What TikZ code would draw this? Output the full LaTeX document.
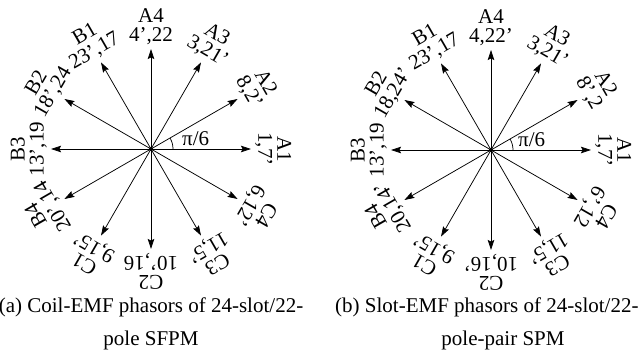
\documentclass[tikz,border=0pt]{standalone}
\usepackage{fontspec}
\setmainfont{Liberation Serif}
\usetikzlibrary{arrows.meta,calc}
\newcommand\plab[5]{\node[lab, rotate=#2-90] (#5) at ($(#1)+(#2:103pt)$) {#3\\#4};}
\begin{document}
\begin{tikzpicture}[x=1pt,y=1pt,
  ph/.style={-{Stealth[length=10pt,width=6.5pt,inset=1.5pt]}, line width=0.75pt},
  lab/.style={font=\fontsize{21}{19}\selectfont, align=center, inner sep=1pt, anchor=south},
  captxt/.style={font=\fontsize{21}{26}\selectfont, inner sep=0pt},
  angtxt/.style={font=\fontsize{21}{21}\selectfont, inner sep=0pt, anchor=base west},
  cdot/.style={circle, fill=black, inner sep=0pt, minimum size=4pt}]
\useasboundingbox (0,0) rectangle (639,355);
\coordinate (ca) at (151,206);
\coordinate (cb) at (491,205);
\foreach \a [count=\i] in {0,30,...,330} {
  \coordinate (ta\i) at ($(ca)+(\a:100pt)$);
  \coordinate (tb\i) at ($(cb)+(\a:100pt)$);
  \draw[ph] (ca) -- (ta\i);
  \draw[ph] (cb) -- (tb\i);
}
\node[cdot] (dota) at (ca) {};
\node[cdot] (dotb) at (cb) {};
\draw[line width=0.75pt] ($(ca)+(22pt,0)$) arc[start angle=0,end angle=30,radius=22pt];
\draw[line width=0.75pt] ($(cb)+(22pt,0)$) arc[start angle=0,end angle=30,radius=22pt];
\node[angtxt] (pia) at ($(ca)+(31pt,3pt)$) {π/6};
\node[angtxt] (pib) at ($(cb)+(27pt,3pt)$) {π/6};
% (a)
\plab{ca}{0}{A1}{1,7'}{la1}
\plab{ca}{30}{A2}{8,2'}{la2}
\plab{ca}{60}{A3}{3,21'}{la3}
\plab{ca}{90}{A4}{4',22}{la4}
\plab{ca}{120}{B1}{23',17}{la5}
\plab{ca}{150}{B2}{18',24}{la6}
\plab{ca}{180}{B3}{13',19}{la7}
\plab{ca}{210}{B4}{20',14}{la8}
\plab{ca}{240}{C1}{9,15'}{la9}
\plab{ca}{270}{C2}{10',16}{la10}
\plab{ca}{300}{C3}{11,5'}{la11}
\plab{ca}{330}{C4}{6,12'}{la12}
% (b)
\plab{cb}{0}{A1}{1,7'}{lb1}
\plab{cb}{30}{A2}{8',2}{lb2}
\plab{cb}{60}{A3}{3,21'}{lb3}
\plab{cb}{90}{A4}{4,22'}{lb4}
\plab{cb}{120}{B1}{23',17}{lb5}
\plab{cb}{150}{B2}{18,24'}{lb6}
\plab{cb}{180}{B3}{13',19}{lb7}
\plab{cb}{210}{B4}{20,14'}{lb8}
\plab{cb}{240}{C1}{9,15'}{lb9}
\plab{cb}{270}{C2}{10,16'}{lb10}
\plab{cb}{300}{C3}{11,5'}{lb11}
\plab{cb}{330}{C4}{6',12}{lb12}
% captions
\node[captxt, anchor=base] (capa1) at (151,42) {(a) Coil-EMF phasors of 24-slot/22-};
\node[captxt, anchor=base] (capa2) at (151,9) {pole SFPM};
\node[captxt, anchor=base west] (capb1) at (335,42) {(b) Slot-EMF phasors of 24-slot/22-};
\node[captxt, anchor=base] (capb2) at (503,9) {pole-pair SPM};
\end{tikzpicture}
\end{document}
